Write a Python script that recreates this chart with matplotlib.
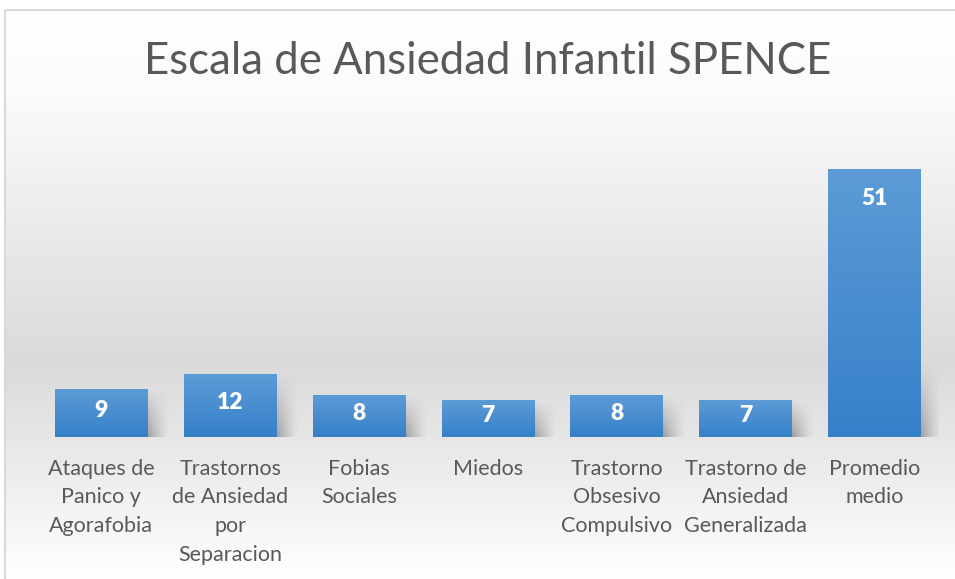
import matplotlib.pyplot as plt
import numpy as np
from matplotlib.colors import LinearSegmentedColormap
from matplotlib.patches import Rectangle

plt.rcParams['font.family'] = ['Lato', 'DejaVu Sans']

categorias = ["Ataques de\nPanico y\nAgorafobia", "Trastornos\nde Ansiedad\npor\nSeparacion",
              "Fobias\nSociales", "Miedos", "Trastorno\nObsesivo\nCompulsivo",
              "Trastorno de\nAnsiedad\nGeneralizada", "Promedio\nmedio"]
valores = [9, 12, 8, 7, 8, 7, 51]
titulo = "Escala de Ansiedad Infantil SPENCE"

W, H = 955, 579
fig = plt.figure(figsize=(W / 100, H / 100), dpi=100)

# fondo con degradado
bg = fig.add_axes([0, 0, 1, 1])
bg.set_xlim(0, W)
bg.set_ylim(H, 0)
bg.axis('off')
cmap_bg = LinearSegmentedColormap.from_list('bg', [(0, '#ffffff'), (0.15, '#fbfbfb'),
                                                   (0.62, '#dadada'), (0.8, '#ebebeb'),
                                                   (1, '#ffffff')])
grad = np.linspace(0, 1, 256).reshape(-1, 1)
bg.imshow(grad, extent=[5, W, H, 10], cmap=cmap_bg, aspect='auto', zorder=0)
bg.add_patch(Rectangle((5, 10), W, H, fill=False, edgecolor='#d9d9d9', lw=1.5, zorder=1))

bg.text(488, 62, titulo, ha='center', va='center', fontsize=31.5, color='#595959')

# ejes del grafico
x0, x1 = 37, 939
base, top = 437, 122
ax = fig.add_axes([x0 / W, 1 - base / H, (x1 - x0) / W, (base - top) / H])
ax.patch.set_alpha(0)
ax.axis('off')

ancho = 0.72
cmap_bar = LinearSegmentedColormap.from_list('bar', ['#3680c9', '#5c9bd6'])

# sombra: degradado horizontal y vertical
sx = np.linspace(0, 1, 60)
sy = np.linspace(0, 1, 60)
fx = np.clip((1 - sx) / 0.9, 0, 1) ** 1.3
fy = np.clip(1 - sy, 0, 1) ** 1.0
alpha = np.outer(fy, fx) * 0.7
sombra = np.zeros((60, 60, 4))
sombra[..., :3] = 0.5
sombra[..., 3] = alpha

for i, v in enumerate(valores):
    hs = min(v, 14)
    ax.imshow(sombra, extent=[i + ancho / 2 - 0.02, i + ancho / 2 + 0.17, 0, hs],
              aspect='auto', origin='lower', zorder=1)
    ax.imshow(grad, cmap=cmap_bar, extent=[i - ancho / 2, i + ancho / 2, 0, v],
              aspect='auto', origin='lower', zorder=2)
    ypos = max(v - 5.5, v / 2 + 0.5)
    ax.text(i, ypos, str(v), ha='center', va='center', color='white',
            fontsize=16.5, fontweight='heavy', zorder=3)
    ax.text(i, -4.1, categorias[i], ha='center', va='top', color='#595959',
            fontsize=15.5, linespacing=1.55, zorder=3)

ax.set_xlim(-0.5, len(valores) - 0.5)
ax.set_ylim(0, 60)

fig.savefig('out.png', dpi=100)
